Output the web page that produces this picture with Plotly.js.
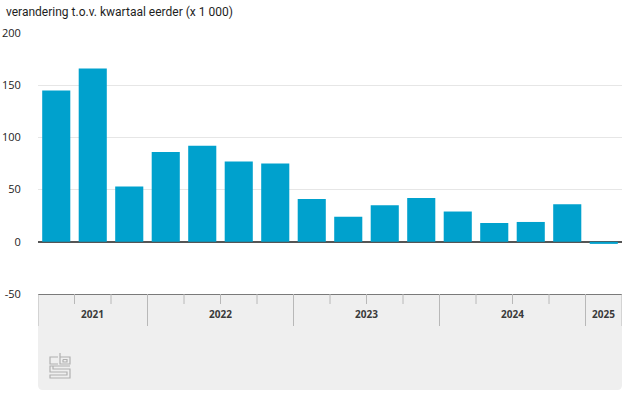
<!DOCTYPE html>
<html>
<head>
<meta charset="utf-8">
<script src="https://cdn.plot.ly/plotly-3.0.1.min.js"></script>
<style>
html,body{margin:0;padding:0;background:#fff;}
#chart{width:626px;height:417px;}
</style>
</head>
<body>
<div id="chart"></div>
<script>
// Data (x 1 000), quarterly change vs previous quarter
const quarters = [
  '2021 2e kwartaal','2021 3e kwartaal','2021 4e kwartaal',
  '2022 1e kwartaal','2022 2e kwartaal','2022 3e kwartaal','2022 4e kwartaal',
  '2023 1e kwartaal','2023 2e kwartaal','2023 3e kwartaal','2023 4e kwartaal',
  '2024 1e kwartaal','2024 2e kwartaal','2024 3e kwartaal','2024 4e kwartaal',
  '2025 1e kwartaal'
];
const values = [145, 166, 53, 86, 92, 77, 75, 41, 24, 35, 42, 29, 18, 19, 36, -2];
const years = ['2021', '2022', '2023', '2024', '2025'];
const quartersPerYear = [3, 4, 4, 4, 1];
const yTicks = [-50, 0, 50, 100, 150, 200];

const W = 626, H = 417;
const mL = 38, mR = 4, mT = 33, mB = 123;
const plotW = W - mL - mR, plotH = H - mT - mB;
const px = x => (x - mL) / plotW;          // pixel -> paper x
const py = y => (H - mB - y) / plotH;      // pixel -> paper y

const idx = values.map((v, i) => i);
const n = values.length;

const shapes = [];
const annotations = [];

// grey band under the plot
const bandBottom = 390, r = 5;
shapes.push({
  type: 'path', xref: 'paper', yref: 'paper', layer: 'below',
  path: `M ${px(mL)},${py(294)} L ${px(W - mR)},${py(294)} L ${px(W - mR)},${py(bandBottom - r)} ` +
        `Q ${px(W - mR)},${py(bandBottom)} ${px(W - mR - r)},${py(bandBottom)} ` +
        `L ${px(mL + r)},${py(bandBottom)} Q ${px(mL)},${py(bandBottom)} ${px(mL)},${py(bandBottom - r)} Z`,
  fillcolor: '#efefef', line: {width: 0}
});

// year separators and quarter ticks, labels
let start = 0;
years.forEach((yr, k) => {
  const cnt = quartersPerYear[k];
  const left = start - 0.5;
  shapes.push({type: 'line', xref: 'x', yref: 'paper', x0: left, x1: left,
    y0: 0, y1: py(326), line: {color: '#b8b8b8', width: 1}});
  for (let q = 1; q < cnt; q++) {
    shapes.push({type: 'line', xref: 'x', yref: 'paper', x0: left + q, x1: left + q,
      y0: 0, y1: py(304), line: {color: '#b8b8b8', width: 1}});
  }
  annotations.push({xref: 'x', yref: 'paper', x: left + cnt / 2, y: py(314),
    text: '<b>' + yr + '</b>', showarrow: false, xanchor: 'center', yanchor: 'middle',
    font: {family: 'Open Sans, sans-serif', size: 10, color: '#3a3a3a'}});
  start += cnt;
});
shapes.push({type: 'line', xref: 'x', yref: 'paper', x0: n - 0.5, x1: n - 0.5,
  y0: 0, y1: py(326), line: {color: '#b8b8b8', width: 1}});

// CBS logo (decoration)
const lx = 50, ly = 353;
const logo = [
  [[8,4],[0,4],[0,11],[8,11]],
  [[10,0],[10,11],[20,11],[20,4],[10,4]],
  [[13,6.5],[17,6.5],[17,9],[13,9],[13,6.5]],
  [[20,13],[0,13],[0,19],[17,19],[17,22],[0,22],[0,25],[20,25],[20,16],[3,16],[3,13]]
];
logo.forEach(pts => {
  shapes.push({type: 'path', xref: 'paper', yref: 'paper',
    path: pts.map((p, i) => (i ? 'L ' : 'M ') + px(lx + p[0]) + ',' + py(ly + p[1])).join(' '),
    line: {color: '#b0b0b0', width: 1.2}});
});

const data = [{
  type: 'bar', x: idx, y: values, text: quarters,
  hoverinfo: 'text+y',
  marker: {color: '#00a1cd', line: {width: 0}},
  textposition: 'none'
}];

const layout = {
  width: W, height: H,
  margin: {l: mL, r: mR, t: mT, b: mB, pad: 0},
  paper_bgcolor: '#fff', plot_bgcolor: '#fff',
  bargap: 0.23,
  showlegend: false,
  font: {family: 'Open Sans, sans-serif', color: '#333'},
  title: {
    text: 'verandering t.o.v. kwartaal eerder (x 1 000)',
    xref: 'container', yref: 'container', x: 6 / W, y: 1 - 12 / H,
    xanchor: 'left', yanchor: 'middle',
    font: {family: 'Roboto, sans-serif', size: 12, color: '#1e1e1e'}
  },
  xaxis: {
    range: [-0.5, n - 0.5], showticklabels: false, showgrid: false,
    zeroline: false, showline: true, linecolor: '#7a7a7a', linewidth: 1,
    ticks: '', fixedrange: true
  },
  yaxis: {
    range: [-50, 200], tickvals: yTicks, ticktext: yTicks.map(String),
    showgrid: true, gridcolor: '#e6e6e6', gridwidth: 1,
    zeroline: true, zerolinecolor: '#555', zerolinewidth: 1.5,
    showline: false, ticks: 'outside', ticklen: 14, tickcolor: 'rgba(0,0,0,0)',
    tickfont: {family: 'Open Sans, sans-serif', size: 11, color: '#222'},
    fixedrange: true
  },
  shapes: shapes,
  annotations: annotations
};

Plotly.newPlot('chart', data, layout, {displayModeBar: false, staticPlot: true});
</script>
</body>
</html>
